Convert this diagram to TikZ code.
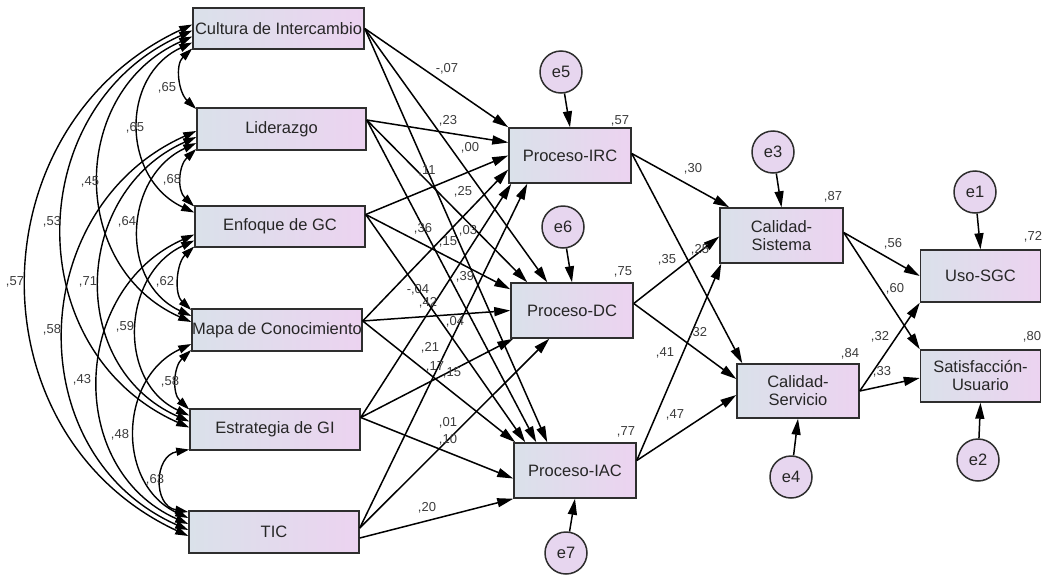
\documentclass[tikz,border=0pt]{standalone}
\usepackage{fontspec}
\setmainfont{Liberation Sans}
\usetikzlibrary{arrows.meta}
\definecolor{boxL}{HTML}{DAE1EA}
\definecolor{boxR}{HTML}{ECD3F0}
\definecolor{circ}{HTML}{E7D6EF}
\definecolor{edgec}{HTML}{2E2E2E}
\definecolor{txt}{HTML}{262626}
\definecolor{lab}{HTML}{3C3C3C}
\begin{document}
\begin{tikzpicture}[x=1pt,y=1pt,
  var/.style={draw=edgec, line width=1.5pt, left color=boxL, right color=boxR, inner sep=0pt,
    font=\fontsize{16.5}{18}\selectfont, text=txt, align=center},
  err/.style={circle, draw=edgec, line width=1.5pt, fill=circ, minimum size=42pt, inner sep=0pt,
    font=\fontsize{16.5}{18}\selectfont, text=txt},
  coef/.style={font=\fontsize{13}{14}\selectfont, text=lab, inner sep=0pt},
  reg/.style={line width=1.5pt, -{Triangle[length=16pt,width=9pt]}},
  corr/.style={line width=1.4pt, {Triangle[length=13pt,width=8pt]}-{Triangle[length=13pt,width=8pt]}},
  sp1/.style={out=223,in=137,distance=24pt},
  spst/.style={out=190,in=170,distance=36pt},
  sp2/.style={out=205,in=155,distance=80pt},
  sp3/.style={out=204,in=156,distance=135pt},
  sp4/.style={out=204,in=156,distance=187pt},
  sp5/.style={out=205,in=155,distance=240pt}
]
\fill[white] (0,0) rectangle (1042,-576);
\useasboundingbox (0,0) rectangle (1042,-576);

% exogenous variables
\node[var, minimum width=171pt, minimum height=41pt] (cul) at (278.5,-28.5) {Cultura de Intercambio};
\node[var, minimum width=169pt, minimum height=42pt] (lid) at (281.5,-129) {Liderazgo};
\node[var, minimum width=170pt, minimum height=41pt] (enf) at (280,-226.5) {Enfoque de GC};
\node[var, minimum width=170pt, minimum height=42pt] (map) at (277,-330) {Mapa de Conocimiento};
\node[var, minimum width=170pt, minimum height=41pt] (est) at (275,-429.5) {Estrategia de GI};
\node[var, minimum width=170pt, minimum height=42pt] (tic) at (274,-532) {TIC};

% processes
\node[var, minimum width=122pt, minimum height=55pt] (irc) at (570,-155.5) {Proceso-IRC};
\node[var, minimum width=122pt, minimum height=55pt] (dc) at (572,-310.5) {Proceso-DC};
\node[var, minimum width=122pt, minimum height=55pt] (iac) at (575,-470.5) {Proceso-IAC};

% quality
\node[var, minimum width=123pt, minimum height=55pt] (cs) at (781.5,-235.5) {Calidad-\\Sistema};
\node[var, minimum width=122pt, minimum height=54pt] (csv) at (798,-391) {Calidad-\\Servicio};

% outcomes
\node[var, minimum width=120pt, minimum height=52pt] (uso) at (980.5,-276) {Uso-SGC};
\node[var, minimum width=120pt, minimum height=52pt] (sat) at (980.5,-376) {Satisfacción-\\Usuario};

% errors
\node[err] (e5) at (561,-72) {e5};
\node[err] (e6) at (563,-227) {e6};
\node[err] (e7) at (566,-553) {e7};
\node[err] (e3) at (773,-152) {e3};
\node[err] (e4) at (791,-477) {e4};
\node[err] (e1) at (975,-192) {e1};
\node[err] (e2) at (978,-460) {e2};

% start points of regressions
\coordinate (sCul) at (cul.east);
\coordinate (sLid) at ([yshift=9pt]lid.east);
\coordinate (sEnf) at ([yshift=12pt]enf.east);
\coordinate (sMap) at ([yshift=9pt]map.east);
\coordinate (sEst) at ([yshift=12pt]est.east);
\coordinate (sTic) at ([yshift=4pt]tic.east);
\coordinate (sTicb) at ([yshift=-6pt]tic.east);

% regressions to processes
\draw[reg] (sCul) -- (irc.north west);
\draw[reg] (sCul) -- ([xshift=37pt]dc.north west);
\draw[reg] (sCul) -- ([xshift=34pt]iac.north west);
\draw[reg] (sLid) -- ([yshift=13pt]irc.west);
\draw[reg] (sLid) -- ([xshift=17pt]dc.north west);
\draw[reg] (sLid) -- ([xshift=23pt]iac.north west);
\draw[reg] (sEnf) -- (irc.west);
\draw[reg] (sEnf) -- ([yshift=-7pt]dc.north west);
\draw[reg] (sEnf) -- ([xshift=12pt]iac.north west);
\draw[reg] (sMap) -- ([yshift=-14pt]irc.west);
\draw[reg] (sMap) -- (dc.west);
\draw[reg] (sMap) -- ([xshift=2pt]iac.north west);
\draw[reg] (sEst) -- ([xshift=3pt]irc.south west);
\draw[reg] (sEst) -- ([xshift=3pt]dc.south west);
\draw[reg] (sEst) -- ([yshift=-8pt]iac.west);
\draw[reg] (sTic) -- ([xshift=19pt]irc.south west);
\draw[reg] (sTic) -- ([xshift=39pt]dc.south west);
\draw[reg] (sTicb) -- (iac.south west);

% processes to quality
\draw[reg] ([yshift=2pt]irc.east) -- ([xshift=10pt]cs.north west);
\draw[reg] ([yshift=2pt]irc.east) -- ([xshift=6pt]csv.north west);
\draw[reg] ([yshift=7pt]dc.east) -- ([yshift=-1pt]cs.west);
\draw[reg] ([yshift=7pt]dc.east) -- ([yshift=12pt]csv.west);
\draw[reg] ([yshift=10pt]iac.east) -- ([xshift=2pt]cs.south west);
\draw[reg] ([yshift=10pt]iac.east) -- ([yshift=-4pt]csv.west);

% quality to outcomes
\draw[reg] ([yshift=3pt]cs.east) -- (uso.west);
\draw[reg] ([yshift=3pt]cs.east) -- (sat.north west);
\draw[reg] (csv.east) -- (uso.south west);
\draw[reg] (csv.east) -- ([yshift=-2pt]sat.west);

% errors
\draw[reg] (e5) -- (irc.north);
\draw[reg] (e6) -- (dc.north);
\draw[reg] (e7) -- (iac.south);
\draw[reg] (e3) -- (cs.north);
\draw[reg] (e4) -- (csv.south);
\draw[reg] (e1) -- (uso.north);
\draw[reg] (e2) -- (sat.south);

% correlations span 1
\draw[corr] ([yshift=-20pt]cul.west) to[sp1] ([yshift=20pt]lid.west);
\draw[corr] ([yshift=-20pt]lid.west) to[sp1] ([yshift=20pt]enf.west);
\draw[corr] ([yshift=-20pt]enf.west) to[sp1] ([yshift=20pt]map.west);
\draw[corr] ([yshift=-20pt]map.west) to[sp1] ([yshift=20pt]est.west);
\draw[corr] ([yshift=-20pt]est.west) to[spst] ([yshift=20pt]tic.west);
% span 2
\draw[corr] ([yshift=-14pt]cul.west) to[sp2] ([yshift=14pt]enf.west);
\draw[corr] ([yshift=-14pt]lid.west) to[sp2] ([yshift=14pt]map.west);
\draw[corr] ([yshift=-14pt]enf.west) to[sp2] ([yshift=14pt]est.west);
\draw[corr] ([yshift=-14pt]map.west) to[sp2] ([yshift=14pt]tic.west);
% span 3
\draw[corr] ([yshift=-8pt]cul.west) to[sp3] ([yshift=8pt]map.west);
\draw[corr] ([yshift=-8pt]lid.west) to[sp3] ([yshift=8pt]est.west);
\draw[corr] ([yshift=-8pt]enf.west) to[sp3] ([yshift=8pt]tic.west);
% span 4
\draw[corr] ([yshift=-2pt]cul.west) to[sp4] ([yshift=2pt]est.west);
\draw[corr] ([yshift=-2pt]lid.west) to[sp4] ([yshift=2pt]tic.west);
% span 5
\draw[corr] ([yshift=4pt]cul.west) to[sp5] ([yshift=-4pt]tic.west);

% correlation labels
\node[coef] (r1) at (167,-88) {,65};
\node[coef] (r2) at (172,-180) {,68};
\node[coef] (r3) at (165,-282) {,62};
\node[coef] (r4) at (170,-382) {,58};
\node[coef] (r5) at (155,-480) {,63};
\node[coef] (r6) at (135,-128) {,65};
\node[coef] (r7) at (127,-222) {,64};
\node[coef] (r8) at (125,-327) {,59};
\node[coef] (r9) at (120,-435) {,48};
\node[coef] (r10) at (90,-182) {,45};
\node[coef] (r11) at (88,-282) {,71};
\node[coef] (r12) at (82,-380) {,43};
\node[coef] (r13) at (52,-222) {,53};
\node[coef] (r14) at (52,-330) {,58};
\node[coef] (r15) at (15,-282) {,57};

% regression labels (left block)
\node[coef] (p1) at (447,-69) {-,07};
\node[coef] (p2) at (448,-121) {,23};
\node[coef] (p3) at (470,-148) {,00};
\node[coef] (p4) at (427,-171) {,11};
\node[coef] (p5) at (463,-192) {,25};
\node[coef] (p6) at (423,-229) {,36};
\node[coef] (p7) at (468,-231) {,03};
\node[coef] (p8) at (448,-242) {,15};
\node[coef] (p9) at (465,-277) {,39};
\node[coef] (p10) at (418,-290) {-,04};
\node[coef] (p11) at (428,-303) {,42};
\node[coef] (p12) at (455,-322) {,04};
\node[coef] (p13) at (430,-348) {,21};
\node[coef] (p14) at (435,-367) {,17};
\node[coef] (p15) at (452,-373) {,15};
\node[coef] (p16) at (448,-423) {,01};
\node[coef] (p17) at (448,-440) {,10};
\node[coef] (p18) at (427,-508) {,20};

% regression labels (right block)
\node[coef] (q1) at (693,-169) {,30};
\node[coef] (q2) at (667,-260) {,35};
\node[coef] (q3) at (700,-250) {,25};
\node[coef] (q4) at (698,-333) {,32};
\node[coef] (q5) at (665,-353) {,41};
\node[coef] (q6) at (675,-415) {,47};
\node[coef] (q7) at (893,-244) {,56};
\node[coef] (q8) at (895,-289) {,60};
\node[coef] (q9) at (880,-337) {,32};
\node[coef] (q10) at (882,-372) {,33};

% squared multiple correlations
\node[coef] (s1) at (620,-121) {,57};
\node[coef] (s2) at (623,-272) {,75};
\node[coef] (s3) at (626,-432) {,77};
\node[coef] (s4) at (833,-197) {,87};
\node[coef] (s5) at (850,-354) {,84};
\node[coef] (s6) at (1033,-237) {,72};
\node[coef] (s7) at (1032,-337) {,80};
\end{tikzpicture}
\end{document}
